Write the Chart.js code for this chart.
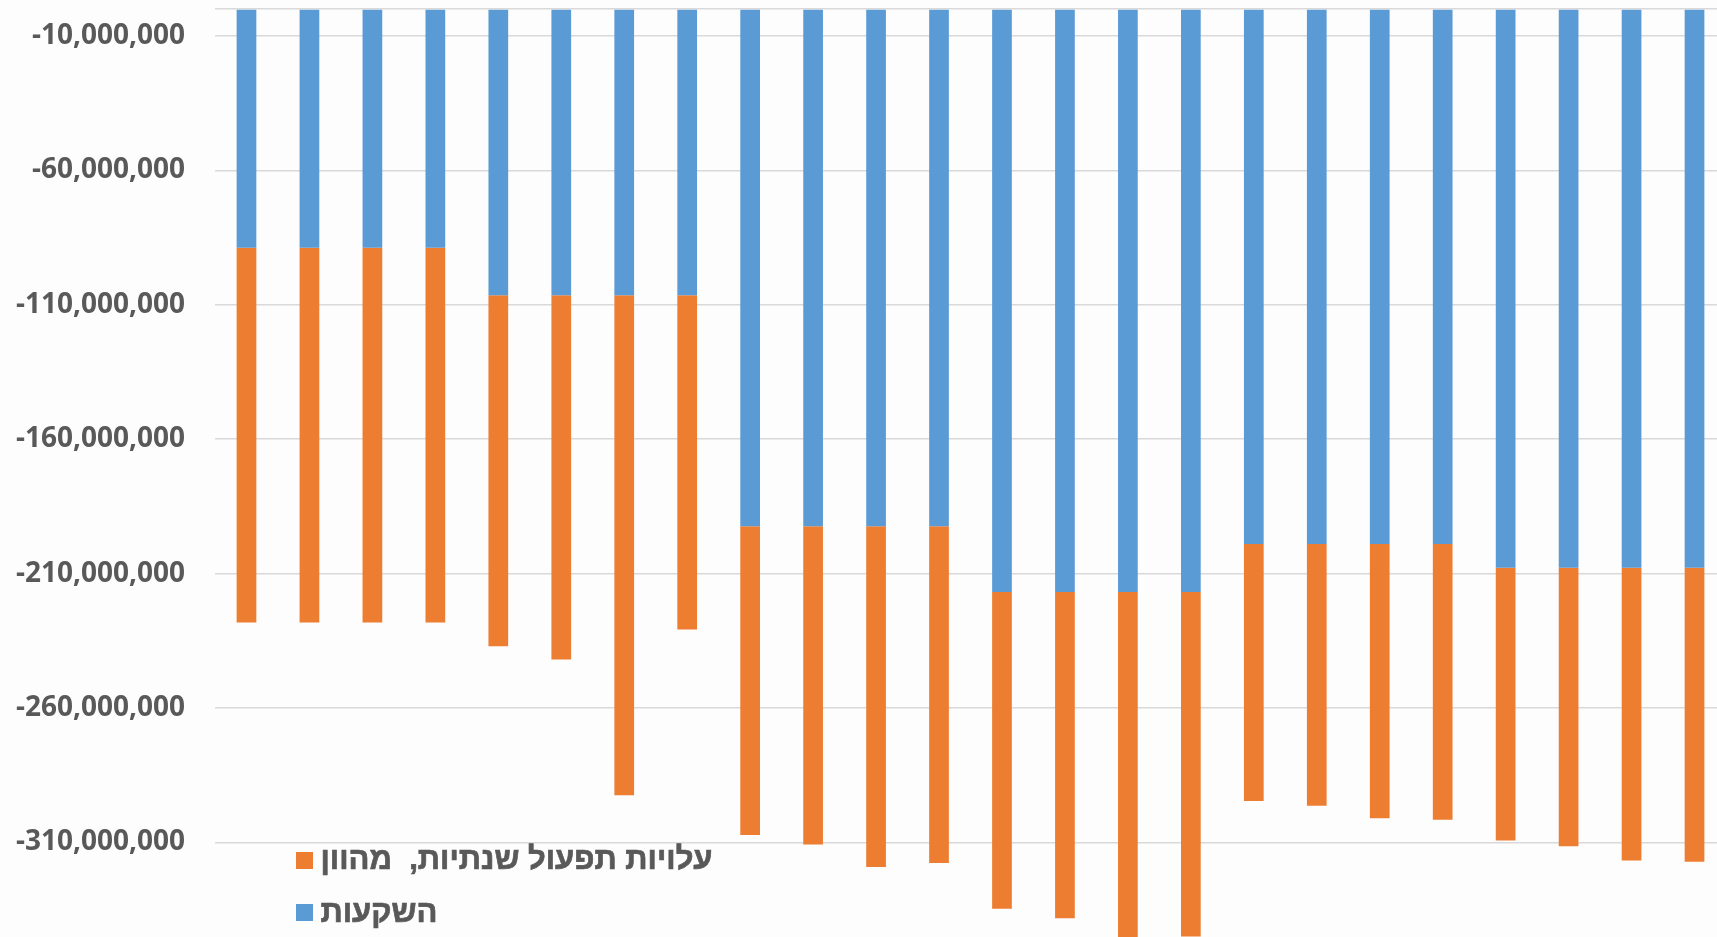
<!DOCTYPE html>
<html lang="he">
<head>
<meta charset="utf-8">
<title>השקעות ועלויות תפעול</title>
<script src="https://cdn.jsdelivr.net/npm/chart.js@4/dist/chart.umd.min.js"></script>
<style>
  html, body { margin: 0; padding: 0; width: 1717px; height: 937px; overflow: hidden; background: #fdfdfd; }
  #wrap { position: absolute; left: 0; top: 0; width: 1726px; height: 937px; }
  #legend {
    position: absolute; left: 296px; top: 834px;
    font-family: "Liberation Sans", Arial, sans-serif; font-weight: 700; font-size: 31px;
    color: #595959; -webkit-text-stroke: 0.7px #595959;
  }
  .item { display: flex; align-items: center; height: 52.5px; }
  .sw { width: 17px; height: 17px; margin-right: 7.5px; flex: none; }
  .txt { direction: rtl; unicode-bidi: isolate; white-space: pre; position: relative; top: -1px; }
</style>
</head>
<body>
<div id="wrap"><canvas id="c" width="1726" height="937"></canvas></div>
<div id="legend"></div>
<script>
// Periods along the horizontal axis (axis itself is not drawn)
const periods = ['1','2','3','4','5','6','7','8','9','10','11','12',
                 '13','14','15','16','17','18','19','20','21','22','23','24'];

// Series names
const seriesInvest = 'השקעות';
const seriesOpCost = 'עלויות תפעול שנתיות,  מהוון';

// Investments (negative cash flow)
const investments = [
  -88800000, -88800000, -88800000, -88800000,
  -106500000, -106500000, -106500000, -106500000,
  -192400000, -192400000, -192400000, -192400000,
  -216900000, -216900000, -216900000, -216900000,
  -199000000, -199000000, -199000000, -199000000,
  -207800000, -207800000, -207800000, -207800000
];

// Discounted annual operating costs, stacked below the investments
const opCosts = [
  -139400000, -139400000, -139400000, -139400000,
  -130500000, -135500000, -186000000, -124300000,
  -114900000, -118400000, -126800000, -125300000,
  -117800000, -121300000, -130600000, -128100000,
  -95600000, -97400000, -102000000, -102600000,
  -101500000, -103600000, -108900000, -109400000
];

// Labelled value-axis ticks
const yTicks = [-10000000, -60000000, -110000000, -160000000, -210000000, -260000000, -310000000];

const colInvest = '#5B9BD5';
const colOpCost = '#ED7D31';

function draw() {
  const ctx = document.getElementById('c').getContext('2d');
  new Chart(ctx, {
    type: 'bar',
    data: {
      labels: periods,
      datasets: [
        { label: seriesInvest, data: investments, backgroundColor: colInvest, stack: 's' },
        { label: seriesOpCost, data: opCosts, backgroundColor: colOpCost, stack: 's' }
      ]
    },
    options: {
      responsive: false,
      animation: false,
      devicePixelRatio: 1,
      layout: { padding: { top: 9, left: 0, right: 0, bottom: 0 } },
      datasets: { bar: { barPercentage: 0.313, categoryPercentage: 1 } },
      plugins: { legend: { display: false }, tooltip: { enabled: false } },
      scales: {
        x: { display: false, stacked: true },
        y: {
          stacked: true,
          min: -345200000,
          max: 0,
          border: { display: false },
          grid: { color: '#d9d9d9', lineWidth: 1.5, drawTicks: false },
          afterBuildTicks: s => { s.ticks = [0, ...yTicks].map(v => ({ value: v })); },
          afterFit: s => { s.width = 215; s.paddingTop = 0; s.paddingBottom = 0; },
          ticks: {
            padding: 30,
            color: '#595959',
            font: { family: '"Open Sans", sans-serif', weight: 'bold', size: 28 },
            callback: v => v === 0 ? '' : Number(v).toLocaleString('en-US')
          }
        }
      }
    }
  });

  // Legend: operating costs first, then investments
  const legend = document.getElementById('legend');
  [[seriesOpCost, colOpCost], [seriesInvest, colInvest]].forEach(([name, col]) => {
    const item = document.createElement('div');
    item.className = 'item';
    const sw = document.createElement('span');
    sw.className = 'sw';
    sw.style.background = col;
    const txt = document.createElement('span');
    txt.className = 'txt';
    txt.textContent = name;
    item.appendChild(sw);
    item.appendChild(txt);
    legend.appendChild(item);
  });
}

Promise.all([
  document.fonts.load('bold 28px "Open Sans"'),
  document.fonts.load('bold 31px "Liberation Sans"')
]).then(draw, draw);
</script>
</body>
</html>
